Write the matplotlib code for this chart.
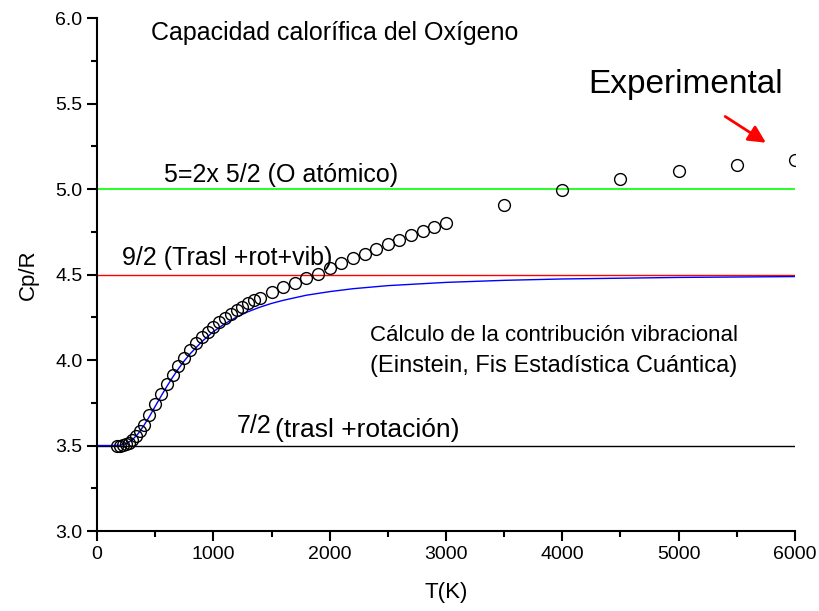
import matplotlib
matplotlib.use("Agg")
import matplotlib.pyplot as plt

plt.rcParams['font.family'] = ['Liberation Sans', 'DejaVu Sans']

# experimental Cp/R of O2
t_exp = [175, 200, 225, 250, 275, 300, 335, 370, 400, 450, 500, 550, 600, 650,
         700, 750, 800, 850, 900, 950, 1000, 1050, 1100, 1150, 1200, 1250, 1300,
         1350, 1400, 1500, 1600, 1700, 1800, 1900, 2000, 2100, 2200, 2300, 2400,
         2500, 2600, 2700, 2800, 2900, 3000, 3500, 4000, 4500, 5000, 5500, 6000]
cp_exp = [3.500, 3.500, 3.503, 3.507, 3.515, 3.532, 3.556, 3.585, 3.620, 3.678,
          3.740, 3.800, 3.860, 3.915, 3.967, 4.013, 4.058, 4.097, 4.133, 4.165,
          4.195, 4.222, 4.247, 4.270, 4.292, 4.312, 4.331, 4.350, 4.364, 4.396,
          4.425, 4.452, 4.478, 4.505, 4.536, 4.568, 4.595, 4.620, 4.647, 4.677,
          4.702, 4.731, 4.755, 4.780, 4.800, 4.906, 4.994, 5.060, 5.105, 5.140,
          5.170]

# vibrational (Einstein) curve
t_calc = [0, 100, 150, 200, 250, 300, 350, 400, 450, 500, 550, 600, 650, 700,
          750, 800, 900, 1000, 1100, 1200, 1300, 1400, 1500, 1600, 1800, 2000,
          2200, 2500, 3000, 3500, 4000, 5000, 6000]
cp_calc = [3.500, 3.500, 3.500, 3.502, 3.510, 3.531, 3.566, 3.614, 3.669, 3.729,
           3.788, 3.845, 3.899, 3.949, 3.995, 4.036, 4.107, 4.166, 4.213, 4.251,
           4.283, 4.309, 4.331, 4.349, 4.379, 4.400, 4.417, 4.435, 4.454, 4.466,
           4.474, 4.483, 4.488]

# reference levels
level_tr = 3.5
level_vib = 4.5
level_atom = 5.0

fig = plt.figure(figsize=(8.2, 6.11), dpi=100)
ax = fig.add_axes([0.1183, 0.1309, 0.8512, 0.8396])

ax.plot([0, 6000], [level_tr, level_tr], color='black', lw=1)
ax.plot([0, 6000], [level_vib, level_vib], color='#ff0000', lw=1)
ax.plot([0, 6000], [level_atom, level_atom], color='#00ff00', lw=1.2)
ax.plot(t_calc, cp_calc, color='#0000ff', lw=1)
ax.plot(t_exp, cp_exp, 'o', mfc='none', mec='black', ms=8.5, mew=1)

ax.set_xlim(0, 6000)
ax.set_ylim(3.0, 6.0)
ax.set_xticks(range(0, 6001, 1000))
ax.set_xticks(range(500, 6000, 1000), minor=True)
ax.set_yticks([3.0, 3.5, 4.0, 4.5, 5.0, 5.5, 6.0])
ax.set_yticks([3.25, 3.75, 4.25, 4.75, 5.25, 5.75], minor=True)
ax.set_yticklabels(['3.0', '3.5', '4.0', '4.5', '5.0', '5.5', '6.0'])
ax.tick_params(which='major', direction='out', length=7, width=1.5, labelsize=14)
ax.tick_params(which='minor', direction='out', length=4, width=1.5)
for s in ['top', 'right']:
    ax.spines[s].set_visible(False)
for s in ['left', 'bottom']:
    ax.spines[s].set_linewidth(1.5)

ax.set_xlabel('T(K)', fontsize=16, labelpad=14)
ax.set_ylabel('Cp/R', fontsize=16, labelpad=12)

ax.text(464, 5.912, 'Capacidad calorífica del Oxígeno', fontsize=18, va='center')
ax.text(4220, 5.61, 'Experimental', fontsize=24, va='center')
ax.annotate('', xy=(5770, 5.262), xytext=(5380, 5.433),
            arrowprops=dict(arrowstyle='-|>', color='red', lw=2, mutation_scale=26))
ax.text(576, 5.082, '5=2x 5/2 (O atómico)', fontsize=18, va='center')
ax.text(215, 4.596, '9/2 (Trasl +rot+vib)', fontsize=18, va='center')
ax.text(2347, 4.146, 'Cálculo de la contribución vibracional', fontsize=16, va='center')
ax.text(2347, 3.965, '(Einstein, Fis Estadística Cuántica)', fontsize=17, va='center')
ax.text(1204, 3.612, '7/2', fontsize=18, va='center')
ax.text(1530, 3.590, '(trasl +rotación)', fontsize=19, va='center')

fig.savefig('out.png', dpi=100)
